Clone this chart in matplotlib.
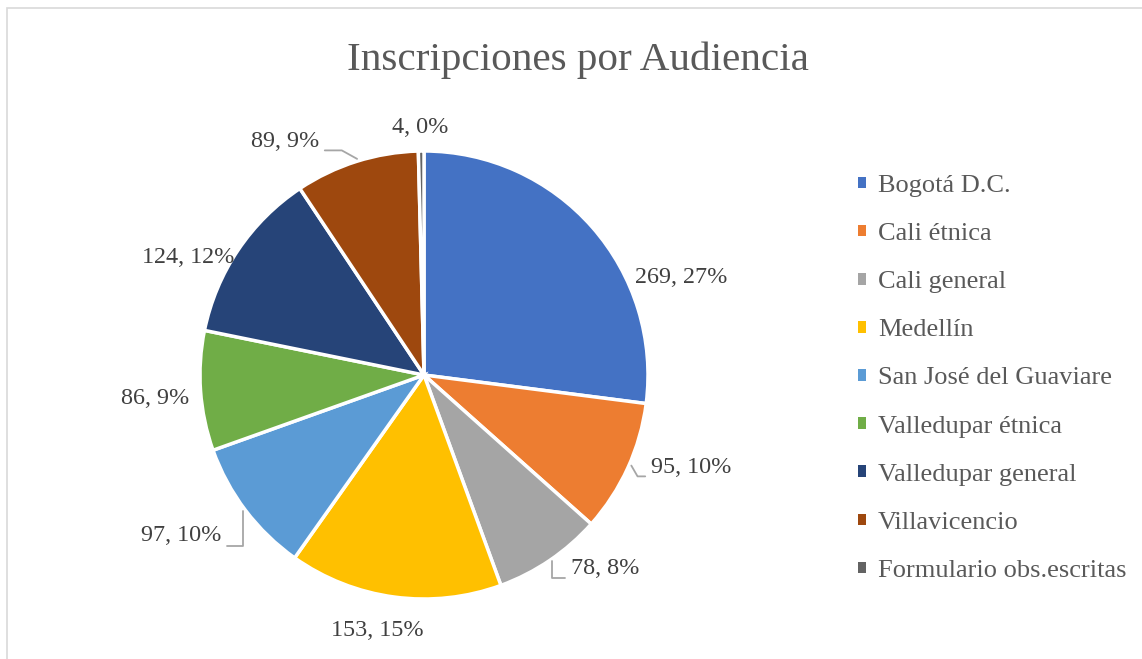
import numpy as np
import matplotlib.pyplot as plt
from matplotlib.patches import Rectangle, Patch

audiencias = ['Bogotá D.C.', 'Cali étnica', 'Cali general', 'Medellín',
              'San José del Guaviare', 'Valledupar étnica', 'Valledupar general',
              'Villavicencio', 'Formulario obs.escritas']
inscripciones = [269, 95, 78, 153, 97, 86, 124, 89, 4]
colores = ['#4472C4', '#ED7D31', '#A5A5A5', '#FFC000', '#5B9BD5',
           '#70AD47', '#264478', '#9E480E', '#636363']

# where each data label sits: angle clockwise from top (deg), radius / pie radius
label_ang = [69.3, 109.2, 137.0, 190.4, 236.6, 265.1, 296.4, 329.2, 359.1]
label_r = [1.226, 1.262, 1.184, 1.158, 1.299, 1.205, 1.176, 1.211, 1.103]
# leader lines: index -> (angle on pie edge, angleB of connection, relpos on text)
leaders = {1: (113.6, -60, (0, 0.1)),
           2: (145.4, 90, (0, 0.05)),
           4: (233.0, 90, (1, 0.0)),
           7: (342.8, -29, (1, 0.1))}

plt.rcParams['font.family'] = ['Liberation Serif', 'DejaVu Serif']

W, H = 1142, 659
fig = plt.figure(figsize=(W / 100, H / 100), dpi=100)
fig.patches.append(Rectangle((7 / W, -0.05), 1.1, 1 - 8 / H + 0.05, transform=fig.transFigure,
                             fill=False, edgecolor='#d9d9d9', linewidth=1.2))

# pie centre at (424, 375) px, radius 224 px
cx, cy, R, lim = 424, 375, 224, 1.35
side = 2 * lim * R
ax = fig.add_axes([(cx - side / 2) / W, (H - cy - side / 2) / H, side / W, side / H])

wedges, _ = ax.pie(inscripciones, colors=colores, startangle=90, counterclock=False,
                   wedgeprops=dict(edgecolor='white', linewidth=2.5))
ax.set_xlim(-lim, lim)
ax.set_ylim(-lim, lim)

total = sum(inscripciones)
for i, v in enumerate(inscripciones):
    txt = f'{v}, {round(100 * v / total)}%'
    a = np.radians(label_ang[i])
    tx, ty = label_r[i] * np.sin(a), label_r[i] * np.cos(a)
    if i in leaders:
        ea, angB, rel = leaders[i]
        e = np.radians(ea)
        ax.annotate(txt, xy=(1.01 * np.sin(e), 1.01 * np.cos(e)), xytext=(tx, ty),
                    ha='center', va='center', fontsize=17.4, color='#404040',
                    arrowprops=dict(arrowstyle='-', color='#a6a6a6', lw=1.3,
                                    connectionstyle=f'angle,angleA=0,angleB={angB},rad=0',
                                    relpos=rel, patchA=None, shrinkA=4, shrinkB=0))
    else:
        ax.text(tx, ty, txt, ha='center', va='center', fontsize=17.4, color='#404040')

fig.text(578 / W, 1 - 60 / H, 'Inscripciones por Audiencia', ha='center', va='center',
         fontsize=29.6, color='#595959')

handles = [Patch(facecolor=c, edgecolor='none') for c in colores]
fig.legend(handles, audiencias, loc='upper left', bbox_to_anchor=(858 / W, 1 - 175 / H),
           frameon=False, fontsize=19, labelcolor='#595959', handlelength=0.3,
           handleheight=0.3, handletextpad=0.45, labelspacing=0.99, borderpad=0,
           borderaxespad=0)

fig.savefig('out.png', dpi=100)
